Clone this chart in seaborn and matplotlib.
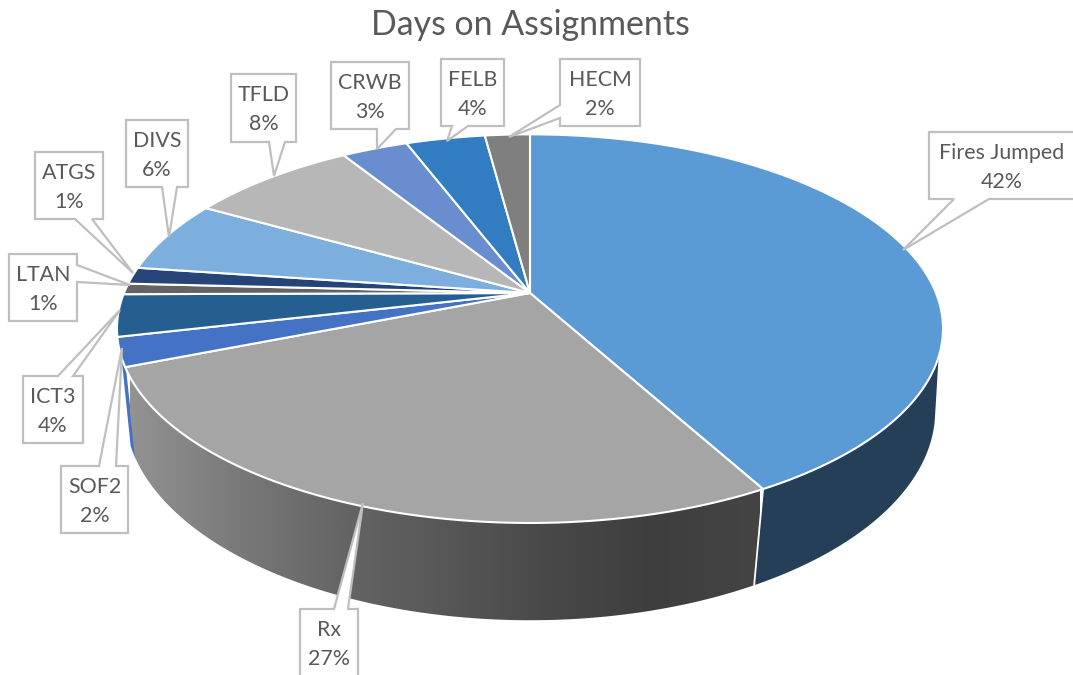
import numpy as np
import pandas as pd
import seaborn as sns
import matplotlib.pyplot as plt
from matplotlib.patches import Polygon

# chart values (printed labels are these rounded)
labels = ['Fires Jumped', 'Rx', 'SOF2', 'ICT3', 'LTAN', 'ATGS', 'DIVS', 'TFLD', 'CRWB', 'FELB', 'HECM']
days_pct = [42, 27, 2.4, 3.5, 0.9, 1.4, 6, 7.9, 3.1, 3.7, 2.1]
colors = ['#5b9bd5', '#a5a5a5', '#4472c4', '#255e91', '#636363', '#264478',
          '#7cafdd', '#b7b7b7', '#698ed0', '#327dc2', '#7f7f7f']

# callout boxes in pixels: box (x0, y0, x1, y1), pointer base, pointer tip
boxes = {
    'Fires Jumped': ((929, 132, 1075, 199), [(954, 199), (989, 199)], (903, 250)),
    'Rx': ((300, 609, 358, 690), [(334, 609), (348, 609)], (363, 503)),
    'SOF2': ((61, 466, 128, 533), [(99, 466), (116, 466)], (122, 348)),
    'ICT3': ((23, 376, 83, 443), [(58, 376), (73, 376)], (120, 310)),
    'LTAN': ((9, 254, 77, 321), [(77, 265), (77, 282)], (130, 285)),
    'ATGS': ((35, 152, 103, 219), [(75, 219), (92, 219)], (133, 273)),
    'DIVS': ((126, 120, 188, 187), [(162, 187), (177, 187)], (169, 237)),
    'TFLD': ((231, 74, 296, 142), [(269, 142), (285, 142)], (274, 176)),
    'CRWB': ((331, 62, 409, 129), [(377, 129), (396, 129)], (377, 149)),
    'FELB': ((441, 59, 504, 126), [(452, 126), (468, 126)], (447, 141)),
    'HECM': ((560, 59, 640, 126), [(560, 105), (560, 118)], (509, 137)),
}
text_x = {'Fires Jumped': 1002, 'Rx': 329}

df = pd.DataFrame({'label': labels, 'pct': days_pct, 'color': colors})
fracs = df['pct'] / df['pct'].sum()
df['start'] = fracs.cumsum().shift(fill_value=0) * 2 * np.pi
df['end'] = fracs.cumsum() * 2 * np.pi

sns.set_theme(style='white')
plt.rcParams['font.family'] = ['Lato', 'DejaVu Sans']

CX = 530


def project(theta, k, a, b, c):
    # perspective view of a unit circle, theta clockwise from the top
    x, y = np.sin(theta), np.cos(theta)
    d = 1 + c * y
    return np.column_stack([CX + k * x / d, (a * y + b) / d])


top = dict(k=406, a=-134, b=293, c=0.1835)
bottom = dict(k=400, a=-144, b=377, c=0.16)


def wall(th_top, th_bottom):
    return np.vstack([project(th_top, **top), project(th_bottom, **bottom)[::-1]])


fig = plt.figure(figsize=(10.73, 6.75), dpi=100)
ax = fig.add_axes([0, 0, 1, 1])
ax.set_xlim(0, 1073)
ax.set_ylim(675, 0)
ax.axis('off')

fires_end = df['end'].iloc[0]
rx_end = df['end'].iloc[1]

# side wall: dark blue, thin SOF2 sliver, grey ramp for Rx
fires_wall = wall(np.linspace(1.897, fires_end, 120), np.linspace(1.777, fires_end, 120))
ax.add_patch(Polygon(fires_wall, closed=True, fc='#243f57', ec='none', zorder=2))
sliver = wall(np.linspace(rx_end - 0.01, rx_end + 0.05, 10), np.linspace(rx_end - 0.01, rx_end + 0.05, 10))
ax.add_patch(Polygon(sliver, closed=True, fc='#4472c4', ec='none', zorder=2))

ramp = sns.blend_palette(['#929292', '#7a7a7a', '#656565', '#575757', '#484848', '#3e3e3e', '#444444'],
                         as_cmap=True)
rx_th = np.linspace(fires_end, rx_end, 200)
rx_patch = Polygon(wall(rx_th, rx_th), closed=True, fc='none', ec='none', zorder=2)
ax.add_patch(rx_patch)
im = ax.imshow(np.linspace(0, 1, 400)[None, :], cmap=ramp, extent=(130, 760, 640, 360), aspect='auto', zorder=2.5)
im.set_clip_path(rx_patch)
ax.set_xlim(0, 1073)
ax.set_ylim(675, 0)

# divider between the two big side walls
p_top = project(np.array([fires_end]), **top)
p_bot = project(np.array([fires_end]), **bottom)
ax.plot([p_top[0, 0], p_bot[0, 0]], [p_top[0, 1], p_bot[0, 1]], color='white', lw=1.3, zorder=3)

# top face
apex = np.array([[CX, top['b']]])
for _, row in df.iterrows():
    th = np.linspace(row['start'], row['end'], 120)
    pts = np.vstack([apex, project(th, **top)])
    ax.add_patch(Polygon(pts, closed=True, fc=row['color'], ec='white', lw=1.5,
                         joinstyle='round', zorder=4))

# callouts
for name, pct in zip(labels, days_pct):
    (x0, y0, x1, y1), base, tip = boxes[name]
    corners = [(x0, y0), (x1, y0), (x1, y1), (x0, y1)]
    bx, by = base[0], base[1]
    if by[1] == y1 and bx[1] == y1:      # pointer on the bottom edge
        outline = corners[:2] + [corners[2], by, tip, bx, corners[3]]
    elif by[1] == y0 and bx[1] == y0:    # top edge
        outline = [corners[0], bx, tip, by, corners[1], corners[2], corners[3]]
    elif bx[0] == x1:                    # right edge
        outline = corners[:2] + [bx, tip, by] + corners[2:]
    else:                                # left edge
        outline = corners + [by, tip, bx]
    ax.add_patch(Polygon(outline, closed=True, fc='white', ec='#bfbfbf', lw=1.6, zorder=5))
    tx = text_x.get(name, (x0 + x1) / 2)
    ax.text(tx, y0 + 21, name, ha='center', va='center', fontsize=15.4, color='#595959', zorder=6)
    ax.text(tx, y0 + 50, f'{pct:.0f}%', ha='center', va='center', fontsize=15.4, color='#595959', zorder=6)

ax.text(530, 25, 'Days on Assignments', ha='center', va='center', fontsize=24.4, color='#595959', zorder=6)

fig.savefig('out.png', dpi=100)
plt.close()
